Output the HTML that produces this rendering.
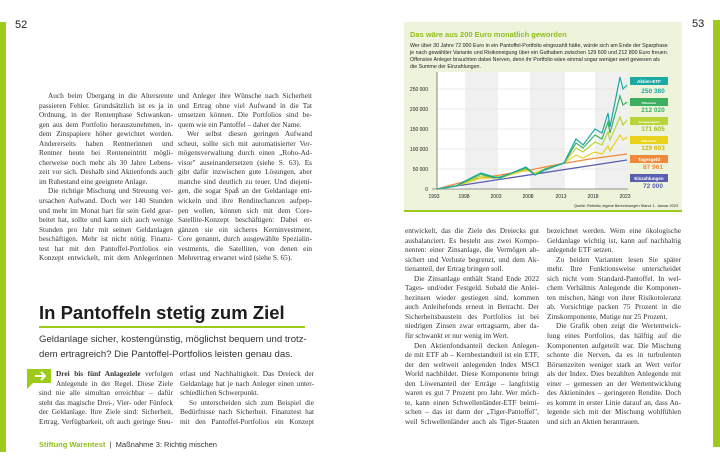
<!DOCTYPE html>
<html><head><meta charset="utf-8"><style>
*{margin:0;padding:0;box-sizing:border-box}
body{width:720px;height:469px;background:#fff;position:relative;overflow:hidden;font-family:"Liberation Serif",serif;color:#333}
.abs{position:absolute}
.col{position:absolute;font-size:7.3px;line-height:9.55px;width:134px;color:#333}
.col div{white-space:nowrap;text-align:justify;text-align-last:justify;height:9.55px}
.col div.l{text-align-last:left}
.col div.i{padding-left:9px}
.sans{font-family:"Liberation Sans",sans-serif}
</style></head><body>
<div class="abs" style="left:0;top:22px;width:6px;height:430px;background:#9ccb1c"></div>
<div class="abs" style="left:713px;top:20px;width:7px;height:427px;background:#9ccb1c"></div>
<div class="abs sans" style="left:15px;top:19px;font-size:11px;color:#222">52</div>
<div class="abs sans" style="left:692px;top:18px;font-size:11px;color:#222">53</div>

<div class="col" style="left:39px;top:91px">
<div class="i">Auch beim Übergang in die Altersrente</div>
<div>passieren Fehler. Grundsätzlich ist es ja in</div>
<div>Ordnung, in der Rentenphase Schwankun-</div>
<div>gen aus dem Portfolio herauszunehmen, in-</div>
<div>dem Zinspapiere höher gewichtet werden.</div>
<div>Andererseits haben Rentnerinnen und</div>
<div>Rentner heute bei Renteneintritt mögli-</div>
<div>cherweise noch mehr als 30 Jahre Lebens-</div>
<div>zeit vor sich. Deshalb sind Aktienfonds auch</div>
<div class="l">im Ruhestand eine geeignete Anlage.</div>
<div class="i">Die richtige Mischung und Streuung ver-</div>
<div>ursachen Aufwand. Doch wer 140 Stunden</div>
<div>und mehr im Monat hart für sein Geld gear-</div>
<div>beitet hat, sollte und kann sich auch wenige</div>
<div>Stunden pro Jahr mit seinen Geldanlagen</div>
<div>beschäftigen. Mehr ist nicht nötig. Finanz-</div>
<div>test hat mit den Pantoffel-Portfolios ein</div>
<div>Konzept entwickelt, mit dem Anlegerinnen</div>
</div>
<div class="col" style="left:178px;top:91px">
<div>und Anleger ihre Wünsche nach Sicherheit</div>
<div>und Ertrag ohne viel Aufwand in die Tat</div>
<div>umsetzen können. Die Portfolios sind be-</div>
<div class="l">quem wie ein Pantoffel – daher der Name.</div>
<div class="i">Wer selbst diesen geringen Aufwand</div>
<div>scheut, sollte sich mit automatisierter Ver-</div>
<div>mögensverwaltung durch einen „Robo-Ad-</div>
<div>visor" auseinandersetzen (siehe S. 63). Es</div>
<div>gibt dafür inzwischen gute Lösungen, aber</div>
<div>manche sind deutlich zu teuer. Und diejeni-</div>
<div>gen, die sogar Spaß an der Geldanlage ent-</div>
<div>wickeln und ihre Renditechancen aufpep-</div>
<div>pen wollen, können sich mit dem Core-</div>
<div>Satellite-Konzept beschäftigen: Dabei er-</div>
<div>gänzen sie ein sicheres Kerninvestment,</div>
<div>Core genannt, durch ausgewählte Spezialin-</div>
<div>vestments, die Satelliten, von denen ein</div>
<div class="l">Mehrertrag erwartet wird (siehe S. 65).</div>
</div>

<div class="abs sans" style="left:39px;top:302px;font-size:18.5px;font-weight:bold;color:#1e1e1e;white-space:nowrap">In Pantoffeln stetig zum Ziel</div>
<div class="abs" style="left:39px;top:326px;width:266px;height:2px;background:#9ccb1c"></div>
<div class="abs sans" style="left:39px;top:333px;font-size:9.6px;line-height:14.5px;color:#333;white-space:nowrap">Geldanlage sicher, kostengünstig, möglichst bequem und trotz-<br>dem ertragreich? Die Pantoffel-Portfolios leisten genau das.</div>
<svg class="abs" style="left:27px;top:369px" width="24" height="20"><path d="M0 0H24V14H6L0 20Z" fill="#9ccb1c"/><path d="M8 7H18M14 3L18 7L14 11" stroke="#fff" stroke-width="2" fill="none"/></svg>
<div class="col" style="left:39px;top:369px">
<div style="padding-left:17px"><b>Drei bis fünf Anlageziele</b> verfolgen</div>
<div style="padding-left:17px">Anlegende in der Regel. Diese Ziele</div>
<div>sind nie alle simultan erreichbar – dafür</div>
<div>steht das magische Drei-, Vier- oder Fünfeck</div>
<div>der Geldanlage. Ihre Ziele sind: Sicherheit,</div>
<div>Ertrag, Verfügbarkeit, oft auch geringe Steu-</div>
</div>
<div class="col" style="left:180px;top:369px">
<div>erlast und Nachhaltigkeit. Das Dreieck der</div>
<div>Geldanlage hat je nach Anleger einen unter-</div>
<div class="l">schiedlichen Schwerpunkt.</div>
<div class="i">So unterscheiden sich zum Beispiel die</div>
<div>Bedürfnisse nach Sicherheit. Finanztest hat</div>
<div>mit den Pantoffel-Portfolios ein Konzept</div>
</div>
<div class="abs sans" style="left:39px;top:440px;font-size:7.5px;color:#333"><b style="color:#8fbf1a">Stiftung Warentest</b> &nbsp;| &nbsp;Maßnahme 3: Richtig mischen</div>

<div class="col" style="left:405px;top:226px">
<div>entwickelt, das die Ziele des Dreiecks gut</div>
<div>ausbalanciert. Es besteht aus zwei Kompo-</div>
<div>nenten: einer Zinsanlage, die Vermögen ab-</div>
<div>sichert und Verluste begrenzt, und dem Ak-</div>
<div class="l">tienanteil, der Ertrag bringen soll.</div>
<div class="i">Die Zinsanlage enthält Stand Ende 2022</div>
<div>Tages- und/oder Festgeld. Sobald die Anlei-</div>
<div>hezinsen wieder gestiegen sind, kommen</div>
<div>auch Anleihefonds erneut in Betracht. Der</div>
<div>Sicherheitsbaustein des Portfolios ist bei</div>
<div>niedrigen Zinsen zwar ertragsarm, aber da-</div>
<div class="l">für schwankt er nur wenig im Wert.</div>
<div class="i">Den Aktienfondsanteil decken Anlegen-</div>
<div>de mit ETF ab – Kernbestandteil ist ein ETF,</div>
<div>der den weltweit anlegenden Index MSCI</div>
<div>World nachbildet. Diese Komponente bringt</div>
<div>den Löwenanteil der Erträge – langfristig</div>
<div>waren es gut 7 Prozent pro Jahr. Wer möch-</div>
<div>te, kann einen Schwellenländer-ETF beimi-</div>
<div>schen – das ist dann der „Tiger-Pantoffel",</div>
<div>weil Schwellenländer auch als Tiger-Staaten</div>
</div>
<div class="col" style="left:547px;top:226px">
<div>bezeichnet werden. Wem eine ökologische</div>
<div>Geldanlage wichtig ist, kann auf nachhaltig</div>
<div class="l">anlegende ETF setzen.</div>
<div class="i">Zu beiden Varianten lesen Sie später</div>
<div>mehr. Ihre Funktionsweise unterscheidet</div>
<div>sich nicht vom Standard-Pantoffel. In wel-</div>
<div>chem Verhältnis Anlegende die Komponen-</div>
<div>ten mischen, hängt von ihrer Risikotoleranz</div>
<div>ab. Vorsichtige packen 75 Prozent in die</div>
<div class="l">Zinskomponente, Mutige nur 25 Prozent.</div>
<div class="i">Die Grafik oben zeigt die Wertentwick-</div>
<div>lung eines Portfolios, das hälftig auf die</div>
<div>Komponenten aufgeteilt war. Die Mischung</div>
<div>schonte die Nerven, da es in turbulenten</div>
<div>Börsenzeiten weniger stark an Wert verlor</div>
<div>als der Index. Dies bezahlten Anlegende mit</div>
<div>einer – gemessen an der Wertentwicklung</div>
<div>des Aktienindex – geringeren Rendite. Doch</div>
<div>es kommt in erster Linie darauf an, dass An-</div>
<div>legende sich mit der Mischung wohlfühlen</div>
<div class="l">und sich an Aktien herantrauen.</div>
</div>

<svg class="abs" style="left:0;top:0" width="720" height="469" font-family="Liberation Sans,sans-serif">
<rect x="404" y="22" width="278" height="189" fill="#eef3dc"/>
<rect x="404" y="210" width="278" height="2" fill="#9ccb1c"/>
<text x="410" y="37" font-size="7.5" font-weight="bold" fill="#8fbf1a">Das wäre aus 200 Euro monatlich geworden</text>
<g font-size="5.3" fill="#222"><text x="410" y="47">Wer über 30 Jahre 72 000 Euro in ein Pantoffel-Portfolio eingezahlt hätte, würde sich am Ende der Sparphase</text><text x="410" y="54">je nach gewählter Variante und Risikoneigung über ein Guthaben zwischen 129 600 und 212 800 Euro freuen.</text><text x="410" y="61">Offensive Anleger brauchten dabei Nerven, denn ihr Portfolio wäre einmal sogar weniger wert gewesen als</text><text x="410" y="68">die Summe der Einzahlungen.</text></g>
<rect x="437" y="72" width="190" height="117" fill="#fff"/>
<rect x="465" y="72" width="33" height="117" fill="#f0f0f0"/>
<rect x="530" y="72" width="35" height="117" fill="#f0f0f0"/>
<rect x="595" y="72" width="32" height="117" fill="#f0f0f0"/>
<g stroke="#ddd" stroke-width="0.5"><line x1="437" y1="89" x2="627" y2="89"/><line x1="437" y1="109" x2="627" y2="109"/><line x1="437" y1="129" x2="627" y2="129"/><line x1="437" y1="149" x2="627" y2="149"/><line x1="437" y1="169" x2="627" y2="169"/></g>
<line x1="437" y1="72" x2="437" y2="189" stroke="#333" stroke-width="0.6"/>
<line x1="432" y1="189" x2="628" y2="189" stroke="#333" stroke-width="0.6"/>
<g font-size="5" fill="#222" text-anchor="end"><text x="428" y="91">250 000</text><text x="428" y="111">200 000</text><text x="428" y="131">150 000</text><text x="428" y="151">100 000</text><text x="428" y="171">50 000</text><text x="428" y="191">0</text></g>
<g font-size="5" fill="#222" text-anchor="middle"><text x="434" y="198">1993</text><text x="464" y="198">1998</text><text x="496" y="198">2003</text><text x="528" y="198">2008</text><text x="561" y="198">2013</text><text x="593" y="198">2018</text><text x="625" y="198">2023</text></g>
<text x="678" y="207" font-size="3.8" text-anchor="end" fill="#222">Quelle: Refinitiv, eigene Berechnungen   Stand: 1. Januar 2023</text>
<polyline fill="none" stroke="#5b5fb0" stroke-width="1.3" points="437,189 627,160"/>
<polyline fill="none" stroke="#ef8a3a" stroke-width="1.3" points="437,189 470,180 500,175 530,170 560,164 590,159 627,154"/>
<polyline fill="none" stroke="#e8d21a" stroke-width="1.2" points="437,189 456,186 481,178 500,178 526,170 535,173 545,169 564,163 576,155 583,158 595,152 602,154 608,146 610,151 620,135 623,140 627,137"/>
<polyline fill="none" stroke="#b7d53a" stroke-width="1.2" points="437,189 456,186 481,176 500,177 526,169 535,174 545,169 564,163 576,148 583,152 595,142 602,145 608,132 610,140 620,117 623,125 627,120"/>
<polyline fill="none" stroke="#3cb060" stroke-width="1.2" points="437,189 456,186 481,174 494,178 500,177 526,168 535,175 545,169 564,163 576,143 583,148 595,135 602,139 608,122 610,133 620,96 623,105 627,102"/>
<polyline fill="none" stroke="#1aa9a5" stroke-width="1.2" points="437,189 456,186 467,180 481,173 494,177 500,178 526,167 535,175 545,170 564,163 576,139 583,145 595,129 602,133 608,113 610,127 620,77 623,89 627,85"/>
<g font-size="4.5" font-weight="bold" fill="#fff" text-anchor="middle">
<rect x="630" y="77" width="38" height="8" fill="#1aa9a5"/><text x="649" y="83">Aktien-ETF</text>
<rect x="630" y="98" width="38" height="8" fill="#3cb060"/><text x="649" y="104" font-size="3">Offensiver</text>
<rect x="630" y="117" width="38" height="8" fill="#b7d53a"/><text x="649" y="123" font-size="3">Ausgewogener</text>
<rect x="630" y="136" width="38" height="8" fill="#e8d21a"/><text x="649" y="142" font-size="3">Defensiver</text>
<rect x="630" y="155" width="38" height="8" fill="#ef8a3a"/><text x="649" y="161">Tagesgeld</text>
<rect x="630" y="174" width="38" height="8" fill="#5b5fb0"/><text x="649" y="180">Einzahlungen</text>
</g>
<g font-size="6.5" font-weight="bold" text-anchor="middle">
<text x="653" y="93" fill="#1aa9a5">250 380</text><text x="653" y="112" fill="#3cb060">212 020</text><text x="653" y="131" fill="#9ebf2a">171 605</text><text x="653" y="150" fill="#d4b800">129 603</text><text x="653" y="169" fill="#ef8a3a">87 961</text><text x="653" y="188" fill="#5b5fb0">72 000</text></g>
</svg>
</body></html>
